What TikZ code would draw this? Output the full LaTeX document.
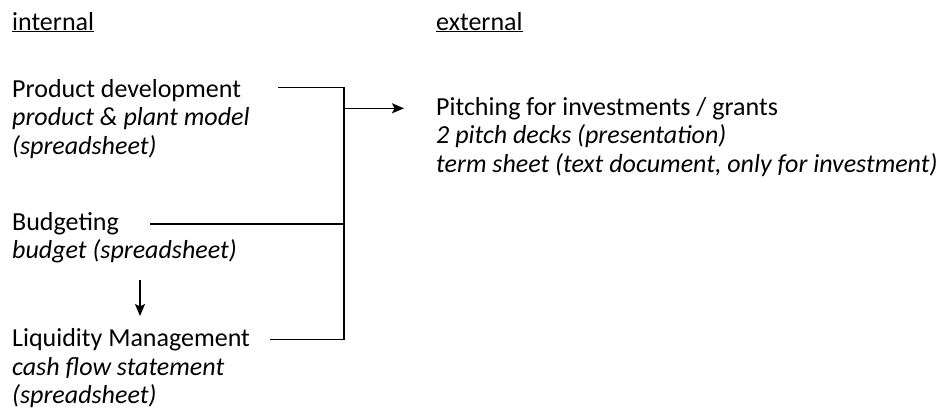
\documentclass[tikz,border=0pt]{standalone}
\usepackage{fontspec}
\setmainfont{Carlito}
\usetikzlibrary{arrows.meta}
\begin{document}
\begin{tikzpicture}[x=1pt,y=-1pt,
  txt/.style={anchor=base west,inner sep=0pt,font=\fontsize{26}{28.5}\selectfont},
  itx/.style={txt,font=\fontsize{26}{28.5}\selectfont\itshape},
  conn/.style={line width=1.5pt},
  arr/.style={conn,-{Stealth[length=12pt,width=10pt,inset=2.5pt]}}]
\useasboundingbox (0,0) rectangle (947,416);
% headings
\node[txt] (hint) at (12,30) {\underline{internal}};
\node[txt] (hext) at (436,30) {\underline{external}};
% internal blocks
\node[txt] (prod1) at (12,97) {Product development};
\node[itx] (prod2) at (12,125.5) {product \& plant model};
\node[itx] (prod3) at (12,154) {(spreadsheet)};
\node[txt] (bud1) at (12,230) {Budgeting};
\node[itx] (bud2) at (12,258.5) {budget (spreadsheet)};
\node[txt] (liq1) at (12,346.7) {Liquidity Management};
\node[itx] (liq2) at (12,375.2) {cash flow statement};
\node[itx] (liq3) at (12,403.7) {(spreadsheet)};
% external block
\node[txt] (pit1) at (436,115) {Pitching for investments / grants};
\node[itx] (pit2) at (436,143.5) {2 pitch decks (presentation)};
\node[itx] (pit3) at (436,172) {term sheet (text document, only for investment)};
% connector points
\coordinate (pa) at (278,87.5);
\coordinate (pb) at (344,87.5);
\coordinate (ba) at (150,224);
\coordinate (bb) at (344,224);
\coordinate (la) at (270,339.3);
\coordinate (lb) at (344,339.3);
\coordinate (ma) at (344,108.3);
\coordinate (mb) at (404,108.3);
\coordinate (da) at (140,280);
\coordinate (db) at (140,316);
% connectors
\draw[conn] (pa) -- (pb) -- (lb) -- (la);
\draw[conn] (ba) -- (bb);
\draw[arr] (ma) -- (mb);
\draw[arr] (da) -- (db);
\end{tikzpicture}
\end{document}
